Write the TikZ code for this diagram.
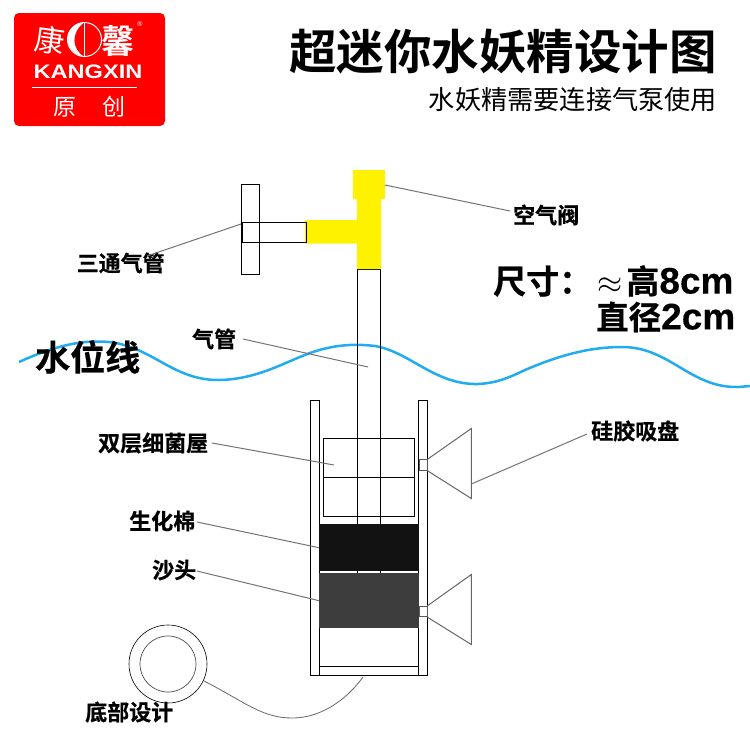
\documentclass[tikz,border=0pt]{standalone}
\usepackage{fontspec}
\setmainfont{Liberation Sans}
\newfontfamily\cjk{Noto Sans CJK SC}
\newfontfamily\cjkb{Noto Sans CJK SC Bold}
\newfontfamily\cjkf[FakeBold=0.6]{Noto Sans CJK SC Bold}
\newfontfamily\latb[FakeBold=0.3]{Liberation Sans Bold}
\newcommand{\fsz}[1]{\fontsize{#1}{#1}\selectfont}
\definecolor{waterblue}{RGB}{34,172,240}
\definecolor{pipeyellow}{RGB}{255,242,0}
\tikzset{
  part/.style={draw=black,line width=0.9pt,inner sep=0},
  leader/.style={draw=black!55,line width=1pt},
  grayline/.style={draw=black!60,line width=1pt},
  label/.style={inner sep=0,font=\cjkf\fsz{22}},
  logotext/.style={inner sep=0,text=white},
}
\begin{document}
\begin{tikzpicture}[x=1pt,y=-1pt]
\useasboundingbox (0,0) rectangle (750,750);
% logo
\fill[red,rounded corners=5] (14,13) rectangle (165,126);
\node[logotext,font=\cjk\fsz{30},rotate=-8] (k1) at (50,40) {康};
\node[logotext,font=\cjkb\fsz{33}] (k2) at (118,41) {馨};
\node[circle,draw=white,line width=1pt,minimum size=34,inner sep=0] (k3) at (84.5,39.5) {};
\draw[white,line width=0.8pt] (k3.north) -- (k3.south);
\fill[white] (k3.north) .. controls (62,26) and (62,52) .. (k3.south) .. controls (71,49) and (71,32) .. (k3.north);
\node[logotext,font=\bfseries\fsz{19.5},xscale=1.21] (k4) at (88,72) {KANGXIN};
\draw[white,line width=0.3pt] (32,87) -- (137,87);
\node[logotext,font=\cjk\fsz{23}] (k5) at (65,107) {原};
\node[logotext,font=\cjk\fsz{23}] (k6) at (114,107) {创};
\node[logotext,font=\fsz{7}] (k7) at (140,24) {®};
% title
\node[inner sep=0,font=\cjkb\fsz{47.5}] (title) at (503,52) {超迷你水妖精设计图};
\node[inner sep=0,font=\cjk\fsz{26.2}] (sub) at (573,100) {水妖精需要连接气泵使用};
% water line
\draw[draw=waterblue,line width=2.5pt] (19,362) .. controls (50,348) and (75,341) .. (100,341.5) .. controls (150,342) and (170,381) .. (220,380) .. controls (258,379) and (285,362) .. (310,353) .. controls (330,346) and (350,343) .. (375,346) .. controls (410,352) and (435,385) .. (478,384) .. controls (498,383) and (510,377) .. (525,370) .. controls (560,355) and (590,347) .. (622,347) .. controls (670,347) and (690,388) .. (738,387) -- (750,386);
% container
\node[part,fill=white,minimum width=9,minimum height=275,anchor=north west] (wl) at (310.3,400.3) {};
\node[part,fill=white,minimum width=9,minimum height=275,anchor=north west] (wr) at (418.3,400.3) {};
\node[part,minimum width=99,minimum height=9,anchor=north west] (bar) at (319.3,666.3) {};
% bacteria house
\draw[line width=0.9pt] (323.3,438.3) rectangle (414.3,516.3);
\draw[line width=0.9pt] (323.3,477.3) -- (414.3,477.3);
% tube
\node[part,minimum width=23,minimum height=305,anchor=north] (tube) at (369,269) {};
% sponge
\node[fill=black!93,minimum width=100,minimum height=47,inner sep=0,anchor=north west] (cotton) at (319,524) {};
\node[fill=black!76,minimum width=100,minimum height=55,inner sep=0,anchor=north west] (stone) at (319,573) {};
% cups
\node[draw=black!65,line width=1pt,fill=white,minimum width=8,minimum height=10.5,inner sep=0] (c1) at (423,465) {};
\node[draw=black!65,line width=1pt,fill=white,minimum width=8,minimum height=10.5,inner sep=0] (c2) at (423,611.5) {};
\draw[grayline] (c1.north east) -- (471.3,428.5) -- (471.3,498.5) -- (c1.south east);
\draw[grayline] (c2.north east) -- (471.3,574.5) -- (471.3,644.5) -- (c2.south east);
% T
\fill[pipeyellow] (353,170) rectangle (385,199) (357,199) rectangle (381,269) (305,220) rectangle (357,243.5);
\node[part,fill=white,minimum width=18,minimum height=90,anchor=north west] (disc) at (241.3,184.3) {};
\node[draw=black,line width=0.9pt,minimum width=63.5,minimum height=20,inner sep=0,anchor=north west] (pipe) at (242,222.3) {};
% base circles
\node[circle,draw=black,line width=0.6pt,minimum size=78,inner sep=0] (base) at (168,664) {};
\node[circle,draw=black!70,line width=0.7pt,minimum size=56,inner sep=0] (basein) at (168,664) {};
% labels
\node[label,anchor=west] (lv) at (513,215) {空气阀};
\node[label,anchor=west] (lt) at (76.5,263) {三通气管};
\node[label,anchor=west] (lq) at (192,339) {气管};
\node[label,anchor=west] (lw) at (98,443) {双层细菌屋};
\node[label,anchor=west] (lb) at (129,521) {生化棉};
\node[label,anchor=west] (ls) at (152,570) {沙头};
\node[label,anchor=west] (lc) at (591,431) {硅胶吸盘};
\node[label,anchor=west] (ld) at (85,712) {底部设计};
\node[inner sep=0,anchor=west,font=\cjkf\fsz{35}] (wl2) at (35,357) {水位线};
\node[inner sep=0,anchor=west,font=\cjkf\fsz{33}] (size1) at (493,281) {尺寸：\hspace{5pt}\scalebox{1.3}{$\approx$}\hspace{4pt}高{\latb\fsz{37}8cm}};
\node[inner sep=0,anchor=west,font=\cjkf\fsz{32.5}] (size2) at (596,317) {直径{\latb\fsz{37}2cm}};
% leaders
\coordinate (a1) at (385,185); \coordinate (a2) at (510,211);
\draw[leader] (a1) -- (a2);
\coordinate (b1) at (241,224); \coordinate (b2) at (147,256);
\draw[leader] (b1) -- (b2);
\coordinate (c3) at (243,339); \coordinate (c4) at (368,367);
\draw[leader] (c3) -- (c4);
\coordinate (d1) at (212,443); \coordinate (d2) at (334,465);
\draw[leader] (d1) -- (d2);
\draw[leader] (197,522) -- (cotton.west);
\draw[leader] (197,571) -- (stone.west);
\coordinate (e1) at (471.3,484); \coordinate (e2) at (587,434);
\draw[leader] (e1) -- (e2);
\draw[grayline,line width=0.8pt] (204,681) .. controls (245,702) and (262,718) .. (292,718) .. controls (325,718) and (350,695) .. (363,677);
\end{tikzpicture}
\end{document}
